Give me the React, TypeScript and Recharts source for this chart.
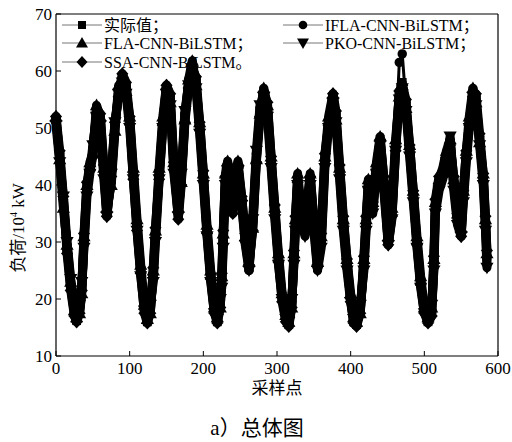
import React from "react";
import { LineChart, Line, XAxis, YAxis } from "recharts";

// sampling points (x)
const samples = [
  0, 5, 10, 15, 20, 25, 28, 32, 35, 38,
  42, 46, 50, 55, 60, 65, 69, 75, 80, 85,
  90, 95, 100, 105, 110, 115, 120, 124, 128, 132,
  135, 140, 145, 150, 155, 160, 166, 170, 175, 180,
  185, 190, 195, 200, 205, 210, 215, 219, 223, 225,
  227, 230, 233, 240, 247, 252, 257, 262, 267, 272,
  277, 282, 287, 292, 297, 302, 307, 312, 316, 320,
  323, 325, 328, 333, 338, 345, 350, 355, 360, 365,
  370, 376, 380, 385, 390, 395, 400, 404, 408, 413,
  418, 421, 424, 430, 435, 440, 445, 451, 456, 461,
  466, 470, 475, 480, 485, 490, 495, 500, 505, 510,
  513, 515, 520, 525, 530, 535, 540, 545, 550, 553,
  557, 561, 566, 570, 575, 580, 583, 585,
];

const actualLoad = [
  51.5, 45, 37, 29, 22, 17.5, 16.2, 18, 22, 30,
  39, 43, 46, 53, 51.5, 42, 35, 41, 50, 56.5,
  59, 57, 51, 42, 33, 25, 18.5, 16, 18, 24,
  31, 42, 51, 57, 55, 43, 35, 41, 52, 58,
  61, 58, 50, 41, 32, 24, 18, 16, 19, 23,
  30, 41, 43.5, 36, 43.5, 37, 30, 25.5, 33, 45,
  53, 56.5, 53, 44, 35, 27, 20.5, 16.5, 15.5, 19,
  27, 33, 41, 35, 32, 41, 33, 25.5, 30, 44,
  51, 55.5, 52, 42, 33, 26, 20, 16, 15.5, 18,
  26, 33, 40, 36, 43, 48, 40, 30, 35, 47,
  56, 58, 54, 46, 38, 30, 23, 18, 16, 17.5,
  26, 36, 40, 42, 45, 47.5, 40, 34, 31.5, 38,
  45, 51, 56.5, 55, 48, 41, 33, 27,
];

const iflaLoad = [
  51, 45.5, 37.5, 28.5, 22.5, 17.5, 16.5, 18.5, 22.5, 30.5,
  39.5, 43.5, 46.5, 53.5, 51, 42.5, 35.5, 40.5, 50.5, 57,
  58.5, 57.5, 50.5, 42.5, 32.5, 25.5, 18, 16.5, 18.5, 24.5,
  31.5, 42.5, 51.5, 56.5, 55.5, 43.5, 35.5, 41.5, 52.5, 58.5,
  60.5, 58.5, 49.5, 41.5, 32.5, 24.5, 18.5, 16.5, 19.5, 23.5,
  31, 40.5, 43, 36.5, 43, 37.5, 30.5, 25, 33.5, 45.5,
  53.5, 56, 53.5, 44.5, 35.5, 27.5, 20, 17, 15.8, 19.5,
  27.5, 32.5, 41.5, 34.5, 32.5, 40.5, 33.5, 25.8, 30.5, 44.5,
  51.5, 55, 52.5, 42.5, 33.5, 26.5, 20.5, 16.5, 15.8, 18.5,
  26.5, 33.5, 40.5, 36.5, 43.5, 47.5, 40.5, 30.5, 35.5, 47.5,
  61.5, 63, 54.5, 46.5, 38.5, 30.5, 23.5, 18.5, 16.3, 18,
  26.5, 36.5, 40.5, 42.5, 45.5, 47, 40.5, 34.5, 32, 38.5,
  45.5, 51.5, 56, 55.5, 48.5, 41.5, 33.5, 27.5,
];

const flaLoad = [
  52, 44.5, 36, 29.5, 23, 18, 16.8, 17.5, 21, 31,
  40, 44, 45.5, 54, 52, 43, 36, 40, 49.5, 57.5,
  58, 56.5, 52, 43, 34, 26, 19, 16.5, 17.5, 25,
  32, 43, 52, 57.5, 54.5, 44, 36, 40.5, 51.5, 58.5,
  61.8, 57.5, 51, 42, 33, 25, 18.5, 16.8, 18.5, 24,
  31.5, 42, 44.2, 37, 44.2, 38, 31, 26.5, 32.5, 44.5,
  52.5, 57, 54, 45, 36, 28, 21, 17.2, 16, 18.5,
  28, 34, 42, 36, 33, 42, 34, 26.5, 31, 45,
  52, 56, 51.5, 43, 34, 27, 21, 16.8, 16, 17.5,
  27, 34, 41, 37, 44, 48.5, 41, 31, 36, 48,
  55.5, 57.5, 53.5, 47, 39, 31, 24, 18.5, 16.8, 18.5,
  27, 37, 41, 43, 46, 48, 41, 35, 32.5, 39,
  46, 52, 57, 54.5, 47.5, 42, 34, 28,
];

const pkoLoad = [
  50.5, 44, 38, 30, 23.5, 18.5, 17, 19, 23, 29,
  38, 42, 47, 52, 50.5, 41, 34.5, 42, 51, 56,
  58, 56, 50, 41, 32, 24, 18, 16.5, 19, 23,
  30, 41, 50, 56, 54, 42, 34.5, 42, 53, 57.5,
  60, 57, 49, 40, 31, 23, 17.5, 16.5, 20, 22,
  29, 40, 42.5, 35.5, 42.5, 36.5, 29.5, 25, 34, 46,
  54, 55.5, 52, 43, 34, 26, 20, 16.5, 16, 20,
  26, 32, 40, 34, 31, 40, 32, 25, 29, 43,
  50, 54.5, 51, 41, 32, 25, 19.5, 16.5, 16, 19,
  25, 32, 39, 35, 42, 47, 39, 29.5, 34, 46,
  55, 57, 53, 45, 37, 29, 22, 17.5, 16.5, 19,
  25, 35, 39, 41, 44, 48.5, 39, 33, 31, 37,
  44, 50, 55.5, 54, 47, 40, 32, 25.5,
];

const ssaLoad = [
  52, 46, 38, 28, 21.5, 17, 16, 17.5, 21.5, 31.5,
  40.5, 42.5, 45, 52.5, 52.5, 43.5, 34.5, 41.5, 51, 55.5,
  59.5, 58, 52, 41, 32, 24.5, 17.5, 15.8, 17.5, 25.5,
  32.5, 41, 50.5, 57.5, 56, 44, 34, 40, 51, 57,
  60.5, 59, 51, 42.5, 31.5, 23.5, 17.5, 15.8, 18.5, 24.5,
  32, 41.5, 43, 35, 43, 38, 31.5, 26, 32, 44,
  52, 56, 54.5, 45, 36.5, 26.5, 19.5, 16, 15.2, 18.5,
  28.5, 34.5, 40.5, 35.5, 33, 41.5, 34, 26, 31.5, 45.5,
  50.5, 56, 53, 43.5, 34.5, 27, 19.5, 15.8, 15.2, 17.5,
  27.5, 34.5, 39.5, 37, 42.5, 48, 41.5, 29.5, 34.5, 46,
  56.5, 57.5, 55, 47, 39, 29.5, 22.5, 17.5, 15.8, 17,
  27.5, 37.5, 41.5, 41.5, 44.5, 47, 41.5, 35, 31, 39,
  46, 50.5, 55.5, 56, 49, 42, 34.5, 28.5,
];

const xTicks = [0, 100, 200, 300, 400, 500, 600];
const yTicks = [10, 20, 30, 40, 50, 60, 70];

const seriesNames = ["实际值；", "IFLA-CNN-BiLSTM；", "FLA-CNN-BiLSTM；", "PKO-CNN-BiLSTM；", "SSA-CNN-BiLSTM。"];

const rows = samples.map((x, i) => ({
  x,
  actual: actualLoad[i],
  ifla: iflaLoad[i],
  fla: flaLoad[i],
  pko: pkoLoad[i],
  ssa: ssaLoad[i],
}));

const FONT = "'Liberation Serif', 'Noto Sans CJK SC', serif";

type Shape = "square" | "circle" | "triUp" | "triDown" | "diamond";

const Marker = ({ cx, cy, shape, s = 1 }: { cx: number; cy: number; shape: Shape; s?: number }) => {
  if (cx == null || cy == null) return null;
  switch (shape) {
    case "square":
      return <rect x={cx - 4 * s} y={cy - 4 * s} width={8 * s} height={8 * s} fill="#000" />;
    case "circle":
      return <circle cx={cx} cy={cy} r={4.3 * s} fill="#000" />;
    case "triUp":
      return (
        <polygon
          points={`${cx},${cy - 6 * s} ${cx + 6 * s},${cy + 4.5 * s} ${cx - 6 * s},${cy + 4.5 * s}`}
          fill="#000"
        />
      );
    case "triDown":
      return (
        <polygon
          points={`${cx},${cy + 6 * s} ${cx + 6 * s},${cy - 4.5 * s} ${cx - 6 * s},${cy - 4.5 * s}`}
          fill="#000"
        />
      );
    default:
      return (
        <polygon
          points={`${cx},${cy - 6 * s} ${cx + 5.5 * s},${cy} ${cx},${cy + 6 * s} ${cx - 5.5 * s},${cy}`}
          fill="#000"
        />
      );
  }
};

const dotFor = (shape: Shape) => (props: any) => (
  <g key={props.key ?? `${shape}-${props.index}`}>
    <Marker cx={props.cx} cy={props.cy} shape={shape} s={1.1} />
  </g>
);

const XTick = ({ x, y, payload }: any) => (
  <g>
    <line x1={x} y1={y} x2={x} y2={y - 5} stroke="#000" strokeWidth={1} />
    <text x={x} y={y + 18} textAnchor="middle" fontSize={17} fontFamily={FONT} fill="#000">
      {payload.value}
    </text>
  </g>
);

const YTick = ({ x, y, payload }: any) => (
  <g>
    <line x1={x} y1={y} x2={x + 5} y2={y} stroke="#000" strokeWidth={1} />
    <text x={x - 4} y={y + 6} textAnchor="end" fontSize={17} fontFamily={FONT} fill="#000">
      {payload.value}
    </text>
  </g>
);

// the dense marker band of the original reads as a thick black trace
const series: { key: string; shape: Shape; width: number }[] = [
  { key: "actual", shape: "square", width: 9 },
  { key: "ifla", shape: "circle", width: 3 },
  { key: "fla", shape: "triUp", width: 9 },
  { key: "pko", shape: "triDown", width: 9 },
  { key: "ssa", shape: "diamond", width: 9 },
];

// legend layout: [x of marker, y of row]
const legendPos = [
  [82, 25],
  [303, 25],
  [82, 43],
  [303, 43],
  [82, 62],
];

const App = () => {
  return (
    <div style={{ position: "absolute", left: 0, top: 0, width: 512, height: 442, background: "#fff" }}>
      <svg width={512} height={442} style={{ position: "absolute", left: 0, top: 0 }}>
        {/* frame top and right */}
        <line x1={56} y1={14} x2={498} y2={14} stroke="#000" strokeWidth={1.2} />
        <line x1={498} y1={14} x2={498} y2={356} stroke="#000" strokeWidth={1.2} />
        {series.map((s, i) => {
          const [mx, my] = legendPos[i];
          return (
            <g key={s.key}>
              <line x1={mx - 20} y1={my} x2={mx + 20} y2={my} stroke="#777" strokeWidth={1} />
              <Marker cx={mx} cy={my} shape={s.shape} />
              <text x={mx + 22} y={my + 6} fontSize={16} fontFamily={FONT} fill="#000">
                {seriesNames[i]}
              </text>
            </g>
          );
        })}
        <text x={277} y={394} textAnchor="middle" fontSize={17} fontFamily={FONT} fill="#000">
          采样点
        </text>
        <text x={257} y={435} textAnchor="middle" fontSize={21} fontFamily={FONT} fill="#000">
          a）总体图
        </text>
        <text
          x={0}
          y={0}
          transform="translate(24,228) rotate(-90)"
          textAnchor="middle"
          fontSize={17}
          fontFamily={FONT}
          fill="#000"
        >
          负荷/10
          <tspan fontSize={10} dy={-7}>4</tspan>
          <tspan dy={7}> kW</tspan>
        </text>
      </svg>
      <div style={{ position: "absolute", left: 0, top: 0 }}>
        <LineChart width={512} height={442} data={rows} margin={{ top: 14, right: 14, bottom: 56, left: 16 }}>
          <XAxis
            dataKey="x"
            type="number"
            domain={[0, 600]}
            ticks={xTicks}
            height={30}
            tickSize={0}
            tickMargin={0}
            tickLine={false}
            axisLine={{ stroke: "#000", strokeWidth: 1.2 }}
            tick={<XTick />}
            interval={0}
          />
          <YAxis
            type="number"
            domain={[10, 70]}
            ticks={yTicks}
            width={40}
            tickSize={0}
            tickMargin={0}
            tickLine={false}
            axisLine={{ stroke: "#000", strokeWidth: 1.2 }}
            tick={<YTick />}
            interval={0}
          />
          {series.map((s) => (
            <Line
              key={s.key}
              dataKey={s.key}
              type="linear"
              stroke="#000"
              strokeWidth={s.width}
              strokeLinejoin="round"
              strokeLinecap="round"
              dot={dotFor(s.shape)}
              activeDot={false}
              isAnimationActive={false}
            />
          ))}
        </LineChart>
      </div>
    </div>
  );
};

export default App;
